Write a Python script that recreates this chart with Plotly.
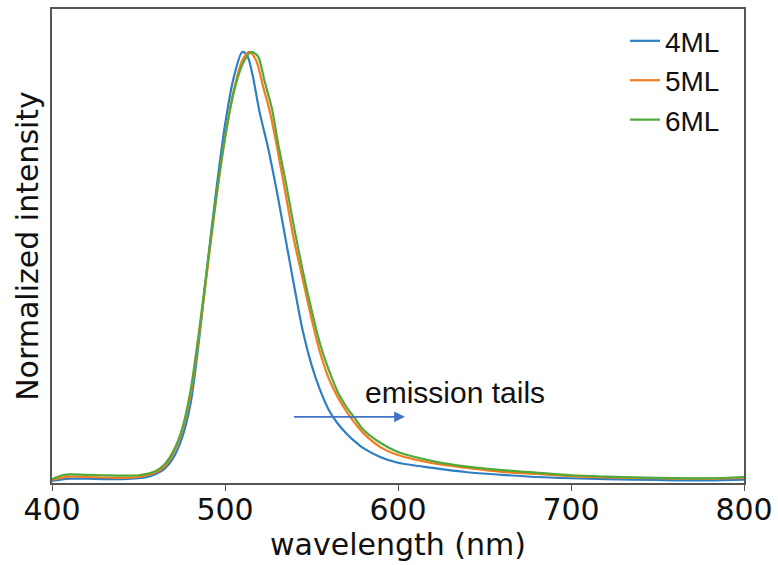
import plotly.graph_objects as go

wl_4 = [400, 405, 410, 420, 430, 440, 450, 455, 460, 465, 470, 475, 480, 485, 490, 495, 500, 505, 510, 513, 516, 520, 525, 530, 535, 540, 545, 550, 555, 560, 565, 570, 575, 580, 590, 600, 620, 640, 660, 680, 700, 720, 750, 780, 800]
int_4 = [0.002, 0.005, 0.007, 0.007, 0.006, 0.006, 0.008, 0.011, 0.018, 0.03, 0.055, 0.10, 0.18, 0.33, 0.51, 0.68, 0.83, 0.94, 1.0, 0.99, 0.945, 0.86, 0.775, 0.675, 0.565, 0.455, 0.35, 0.272, 0.213, 0.167, 0.136, 0.113, 0.094, 0.078, 0.057, 0.044, 0.032, 0.022, 0.016, 0.011, 0.008, 0.006, 0.004, 0.003, 0.005]

wl_5 = [400, 405, 410, 420, 440, 450, 460, 465, 470, 475, 480, 485, 490, 495, 500, 505, 510, 514, 518, 522, 526, 530, 535, 540, 545, 550, 555, 560, 565, 570, 575, 580, 590, 600, 620, 640, 660, 680, 700, 720, 750, 780, 800]
int_5 = [0.004, 0.009, 0.012, 0.011, 0.009, 0.011, 0.022, 0.035, 0.065, 0.115, 0.2, 0.34, 0.50, 0.66, 0.80, 0.91, 0.98, 1.0, 0.98, 0.92, 0.86, 0.78, 0.67, 0.56, 0.47, 0.38, 0.30, 0.24, 0.198, 0.165, 0.137, 0.113, 0.080, 0.062, 0.043, 0.032, 0.023, 0.018, 0.013, 0.010, 0.008, 0.007, 0.009]

wl_6 = [400, 405, 410, 420, 430, 440, 450, 460, 465, 470, 475, 480, 485, 490, 495, 500, 505, 510, 515, 519, 523, 527, 531, 535, 540, 545, 550, 555, 560, 565, 570, 575, 580, 590, 600, 620, 640, 660, 680, 700, 720, 750, 780, 800]
int_6 = [0.006, 0.014, 0.017, 0.016, 0.015, 0.014, 0.015, 0.025, 0.04, 0.07, 0.12, 0.21, 0.35, 0.51, 0.665, 0.80, 0.905, 0.97, 1.0, 0.99, 0.93, 0.87, 0.78, 0.70, 0.59, 0.49, 0.40, 0.32, 0.26, 0.21, 0.175, 0.148, 0.121, 0.090, 0.069, 0.048, 0.035, 0.027, 0.021, 0.015, 0.012, 0.009, 0.008, 0.011]

x_ticks = [400, 500, 600, 700, 800]

fig = go.Figure()
fig.add_trace(go.Scatter(x=wl_4, y=int_4, mode="lines", name="4ML", line=dict(color="#2E7EC3", width=2.2, shape="spline", smoothing=0.8)))
fig.add_trace(go.Scatter(x=wl_5, y=int_5, mode="lines", name="5ML", line=dict(color="#F47C20", width=2.2, shape="spline", smoothing=0.8)))
fig.add_trace(go.Scatter(x=wl_6, y=int_6, mode="lines", name="6ML", line=dict(color="#4FAA3A", width=2.2, shape="spline", smoothing=0.8)))

fig.add_annotation(x=604, y=0.151, ax=539, ay=0.151, xref="x", yref="y", axref="x", ayref="y",
                   showarrow=True, arrowhead=2, arrowsize=1.2, arrowwidth=1.8, arrowcolor="#4472C4", text="")
fig.add_annotation(x=633, y=0.207, xref="x", yref="y", text="emission tails", showarrow=False,
                   font=dict(family="Liberation Sans, Arial", size=30, color="#111"))

fig.update_layout(
    width=778, height=565,
    margin=dict(l=52, r=34, t=9, b=82, autoexpand=False),
    plot_bgcolor="white", paper_bgcolor="white",
    showlegend=True,
    legend=dict(x=0.828, y=0.985, xanchor="left", yanchor="top", bgcolor="rgba(0,0,0,0)",
                font=dict(family="Liberation Sans, Arial", size=28, color="#111"),
                tracegroupgap=0),
)
fig.update_xaxes(range=[400, 800], tickvals=x_ticks, ticks="outside", ticklen=6, tickcolor="#555",
                 showline=True, linecolor="#555", linewidth=1.5, mirror=True, showgrid=False, zeroline=False,
                 automargin=False, ticklabelstandoff=-7,
                 tickfont=dict(family="DejaVu Sans", size=30, color="#111"),
                 title=dict(text="wavelength (nm)", font=dict(family="DejaVu Sans", size=30, color="#111"), standoff=6))
fig.update_yaxes(range=[-0.003, 1.1], showticklabels=False, ticks="", showline=True, linecolor="#555",
                 linewidth=1.5, mirror=True, showgrid=False, zeroline=False, automargin=False,
                 title=dict(text="Normalized intensity", font=dict(family="DejaVu Sans", size=30, color="#111"), standoff=3))

fig.write_html("out.html")
